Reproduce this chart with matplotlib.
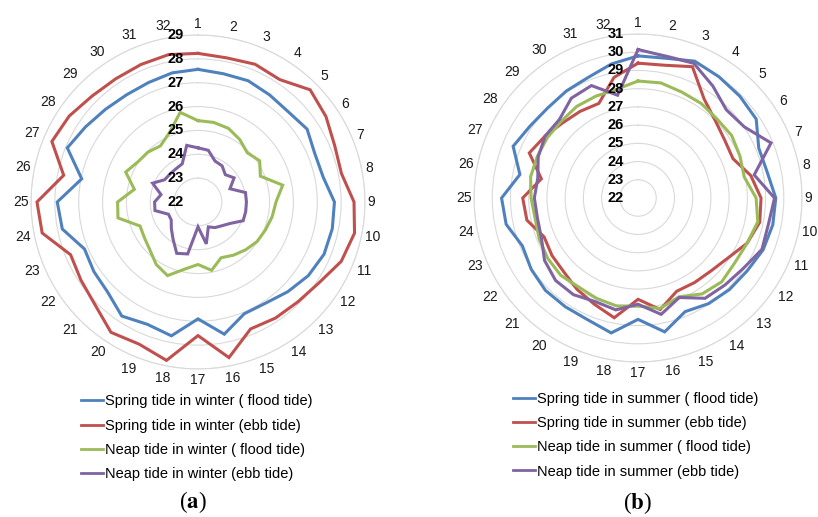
import matplotlib
matplotlib.use('Agg')
import matplotlib.pyplot as plt
import matplotlib.transforms as mtransforms
import numpy as np

plt.rcParams['font.family'] = ['Liberation Sans', 'DejaVu Sans']
plt.rcParams['mathtext.fontset'] = 'stix'

categories = [str(i) for i in range(1, 33)]

# (a) winter
winter_spring_flood = [27.56, 27.48, 27.50, 27.40, 27.35, 27.50, 27.30, 27.35, 27.72, 27.74, 27.72, 27.56,
                       27.32, 27.10, 27.07, 27.65, 26.90, 27.72, 27.55, 27.75, 27.35, 27.25, 27.15, 27.80,
                       27.90, 26.97, 27.93, 27.67, 27.49, 27.40, 27.42, 27.52]
winter_spring_ebb = [28.23, 28.16, 28.25, 28.17, 28.65, 28.45, 28.20, 28.13, 28.54, 28.69, 28.50, 28.10,
                     27.92, 27.85, 27.76, 28.65, 27.60, 28.77, 28.45, 28.57, 28.10, 27.90, 27.78, 28.66,
                     28.75, 27.74, 28.63, 28.49, 28.28, 28.21, 28.24, 28.30]
winter_neap_flood = [25.41, 25.40, 25.34, 25.15, 24.92, 25.11, 24.83, 25.62, 25.27, 25.17, 25.06, 24.98,
                     24.83, 24.68, 24.53, 24.92, 24.62, 24.87, 25.34, 25.15, 24.85, 24.70, 24.63, 25.42,
                     25.37, 24.72, 25.28, 25.03, 24.96, 24.83, 25.14, 25.83]
winter_neap_ebb = [24.27, 24.21, 23.86, 23.82, 23.62, 23.82, 23.45, 24.03, 24.03, 24.04, 24.05, 23.62,
                   23.41, 23.29, 23.13, 23.79, 23.04, 24.22, 24.33, 23.88, 23.58, 23.35, 23.34, 23.84,
                   23.82, 23.58, 24.06, 23.68, 23.66, 23.67, 23.73, 24.42]

# (b) summer
summer_spring_flood = [29.80, 29.82, 30.13, 30.00, 29.90, 29.80, 29.17, 29.23, 29.56, 29.54, 29.43, 29.20,
                       29.10, 28.97, 28.75, 29.49, 28.66, 29.55, 29.23, 29.18, 29.18, 29.05, 28.87, 29.38,
                       29.49, 28.61, 29.42, 29.12, 29.00, 29.07, 29.16, 29.50]
summer_spring_ebb = [29.40, 29.43, 29.80, 28.53, 28.00, 27.72, 27.64, 28.31, 28.75, 28.81, 28.48, 27.93,
                     27.66, 27.58, 27.54, 28.24, 27.56, 28.70, 28.30, 28.03, 27.75, 27.68, 27.58, 28.22,
                     28.33, 27.41, 28.46, 28.13, 27.84, 27.72, 27.62, 28.75]
summer_neap_flood = [28.42, 28.44, 28.29, 28.24, 28.13, 28.18, 28.05, 27.94, 28.48, 28.70, 28.48, 28.39,
                     28.50, 28.33, 27.87, 28.18, 27.93, 28.04, 27.96, 27.87, 28.00, 27.96, 27.87, 27.76,
                     27.87, 28.01, 27.98, 27.98, 27.96, 28.05, 28.05, 28.08]
summer_neap_ebb = [30.15, 29.93, 30.00, 29.39, 28.85, 29.02, 29.90, 28.50, 29.49, 29.30, 29.36, 28.95,
                   28.75, 28.62, 27.91, 28.51, 27.83, 28.26, 28.15, 28.38, 28.40, 28.17, 27.74, 27.63,
                   27.69, 27.61, 27.93, 28.13, 28.10, 28.59, 28.68, 27.75]

winter_ticks = list(range(22, 30))
summer_ticks = list(range(22, 32))

winter_labels = ['Spring tide in winter ( flood tide)', 'Spring tide in winter (ebb tide)',
                 'Neap tide in winter ( flood tide)', 'Neap tide in winter (ebb tide)']
summer_labels = ['Spring tide in summer ( flood tide)', 'Spring tide in summer (ebb tide)',
                 'Neap tide in summer ( flood tide)', 'Neap tide in summer (ebb tide)']

colors = ['#4F81BD', '#C0504D', '#9BBB59', '#8064A2']
grid_color = '#D9D9D9'

fig = plt.figure(figsize=(8.18, 5.17), dpi=100)


def radar(ax, series, labels, ticks):
    n = len(categories)
    ang = np.arange(n) * 2 * np.pi / n
    ang_c = np.append(ang, ang[0])
    for vals, c, lab in zip(series, colors, labels):
        v = np.append(vals, vals[0])
        ax.plot(ang_c, v, color=c, lw=2.2, label=lab, solid_joinstyle='miter', zorder=3)
    ax.set_theta_zero_location('N')
    ax.set_theta_direction(-1)
    ax.set_ylim(ticks[0], ticks[-1])
    ax.set_yticks(ticks)
    ax.set_yticklabels([])
    ax.set_xticks(ang)
    ax.set_xticklabels([])
    ax.tick_params(length=0)
    ax.xaxis.grid(False)
    ax.yaxis.grid(True, color=grid_color, lw=0.8)
    ax.spines['polar'].set_color(grid_color)
    ax.spines['polar'].set_linewidth(0.8)
    # category labels: small gap between the label box and the outer ring
    for a, lab in zip(ang, categories):
        w = len(lab) * 7.7
        h = 18.0
        d = 2 + abs(np.sin(a)) * w / 2 + abs(np.cos(a)) * h / 2
        ax.annotate(lab, xy=(a, ticks[-1]), xytext=(d * np.sin(a) * 0.72, d * np.cos(a) * 0.72),
                    textcoords='offset points', ha='center', va='center', fontsize=10,
                    color='#1a1a1a', annotation_clip=False)
    # radial value labels, just left of the vertical axis
    off = mtransforms.offset_copy(ax.transData, fig=fig, x=-14, y=0, units='dots')
    for t in ticks:
        ax.text(0, t, str(t), transform=off, ha='right', va='center', fontsize=10.5,
                fontweight='bold', family=['Liberation Sans Narrow', 'Liberation Sans'], zorder=4)


ax1 = fig.add_axes([0.0379, 0.2863, 0.4083, 0.646], projection='polar')
radar(ax1, [winter_spring_flood, winter_spring_ebb, winter_neap_flood, winter_neap_ebb],
      winter_labels, winter_ticks)

ax2 = fig.add_axes([0.5795, 0.2998, 0.401, 0.6344], projection='polar')
radar(ax2, [summer_spring_flood, summer_spring_ebb, summer_neap_flood, summer_neap_ebb],
      summer_labels, summer_ticks)

for ax, x0, y0 in [(ax1, 0.0987, 0.237), (ax2, 0.627, 0.242)]:
    leg = ax.legend(loc='upper left', bbox_to_anchor=(x0, y0), bbox_transform=fig.transFigure,
                    frameon=False, fontsize=10.5, handlelength=1.5, handletextpad=0.15,
                    labelspacing=0.7, borderpad=0, borderaxespad=0)
    for ln in leg.get_lines():
        ln.set_linewidth(2)

fig.text(193 / 818, 1 - 502 / 517, r'($\mathbf{a}$)', fontsize=16.5, family='Liberation Serif',
         ha='center', va='center')
fig.text(637 / 818, 1 - 503 / 517, r'($\mathbf{b}$)', fontsize=16.5, family='Liberation Serif',
         ha='center', va='center')

fig.savefig('out.png', dpi=100)
